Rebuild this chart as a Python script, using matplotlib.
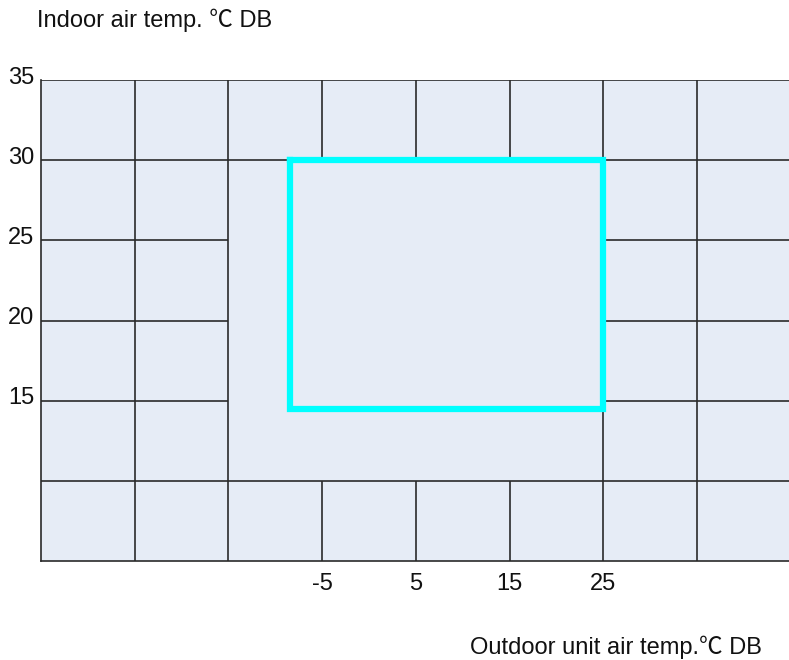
import matplotlib
matplotlib.use("Agg")
import matplotlib.pyplot as plt
import matplotlib.transforms as mtransforms

## chart data
x_ticks = [-5, 5, 15, 25]
x_tick_labels = ["-5", "5", "15", "25"]
y_ticks = [15, 20, 25, 30, 35]
y_tick_labels = ["15", "20", "25", "30", "35"]

# grid segments of the chart: (level, start, end)
h_segments = [(35, -35, 45), (30, -35, 45), (25, -35, -15), (25, 25, 45),
              (20, -35, -15), (20, 25, 45), (15, -35, -15), (15, 25, 45),
              (10, -35, 45)]
v_segments = [(-25, 5, 35), (-15, 5, 35), (-5, 30, 35), (-5, 5, 10),
              (5, 30, 35), (5, 5, 10), (15, 30, 35), (15, 5, 10),
              (25, 5, 35), (35, 5, 35)]

# operating range (cyan box)
range_x = [-8.4, 25, 25, -8.4, -8.4]
range_y = [30, 30, 14.5, 14.5, 30]

fam = ["Liberation Sans", "Noto Sans CJK SC", "DejaVu Sans"]
plt.rcParams["font.family"] = fam

fig = plt.figure(figsize=(7.89, 6.6), dpi=100)
ax = fig.add_axes([41/789, 99/660, 748/789, 481/660])
ax.set_facecolor("#e6ecf6")
ax.set_xlim(-35, 44.8)
ax.set_ylim(5, 35)

gc = "#2a2a2a"
for y, x0, x1 in h_segments:
    ax.plot([x0, x1], [y, y], color=gc, lw=1.2, solid_capstyle="butt")
for x, y0, y1 in v_segments:
    ax.plot([x, x], [y0, y1], color=gc, lw=1.2, solid_capstyle="butt")

ax.plot(range_x, range_y, color="#00ffff", lw=4.5, solid_joinstyle="miter")

for s in ["top", "right"]:
    ax.spines[s].set_visible(False)
for s in ["left", "bottom"]:
    ax.spines[s].set_color(gc)
    ax.spines[s].set_linewidth(1.2)

ax.set_xticks(x_ticks)
ax.set_xticklabels(x_tick_labels, fontsize=17, color="#111111")
ax.set_yticks(y_ticks)
ax.set_yticklabels(y_tick_labels, fontsize=17, color="#111111")
ax.tick_params(length=0)
ax.tick_params(axis="x", pad=9)
ax.tick_params(axis="y", pad=5)
for lbl in ax.get_yticklabels():
    lbl.set_transform(lbl.get_transform() + mtransforms.ScaledTranslation(0, 5/100, fig.dpi_scale_trans))

fig.text(37/789, 1 - 20/660, "Indoor air temp. \u2103 DB", fontsize=17, va="center", ha="left", color="#111111")
fig.text(470/789, 1 - 647/660, "Outdoor unit air temp.\u2103 DB", fontsize=17, va="center", ha="left", color="#111111")

fig.savefig("out.png", dpi=100, facecolor="white")
